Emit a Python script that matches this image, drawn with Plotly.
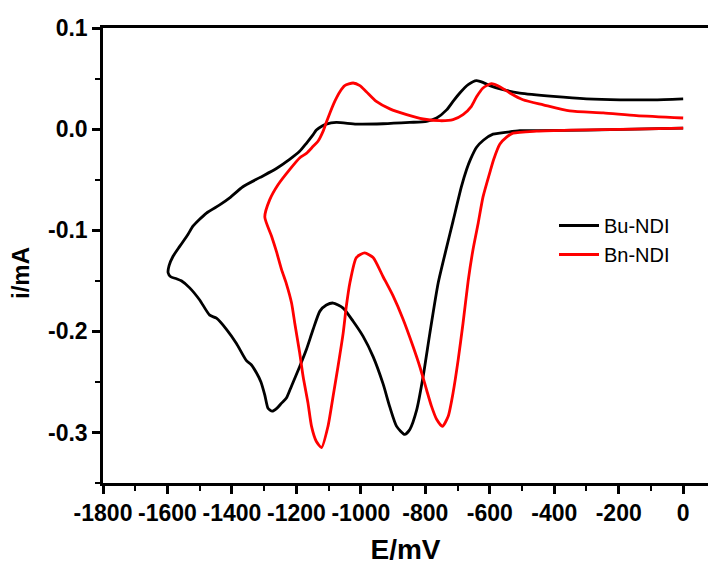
import plotly.graph_objects as go

# ---- data (E in mV, i in mA) ----
bu_E = [0, -150, -300, -450, -507, -569, -590, -620, -641, -660, -672, -688, -714, -734, -760,
        -786, -807, -827, -848, -864, -889, -910, -931, -962, -993, -1024, -1055, -1086, -1107,
        -1127, -1148, -1169, -1190, -1215, -1231, -1246, -1260, -1275, -1288, -1298, -1310, -1324,
        -1340, -1355, -1386, -1417, -1448, -1469, -1500, -1531, -1557, -1572, -1590, -1598,
        -1595, -1583, -1562, -1536, -1521, -1479, -1438, -1407, -1366, -1314, -1262, -1221, -1190,
        -1169, -1148, -1138, -1120, -1107, -1076, -1014, -931, -848, -796, -765, -734, -714, -693,
        -667, -641, -620, -600, -559, -507, -403, -300, -196, -93, 0]
bu_i = [0.001, 0.0, -0.001, -0.0015, -0.0016, -0.004, -0.005, -0.011, -0.018, -0.030, -0.040,
        -0.057, -0.091, -0.117, -0.152, -0.202, -0.245, -0.278, -0.297, -0.302, -0.294, -0.275,
        -0.252, -0.225, -0.205, -0.190, -0.177, -0.172, -0.174, -0.180, -0.198, -0.218, -0.235,
        -0.254, -0.266, -0.271, -0.276, -0.279, -0.276, -0.263, -0.250, -0.241, -0.233, -0.229,
        -0.212, -0.198, -0.187, -0.184, -0.169, -0.157, -0.150, -0.148, -0.146, -0.142,
        -0.135, -0.126, -0.116, -0.104, -0.096, -0.083, -0.075, -0.068, -0.057, -0.048, -0.039,
        -0.030, -0.022, -0.014, -0.0055, -0.001, 0.003, 0.005, 0.0066, 0.005, 0.0053, 0.0066,
        0.0077, 0.011, 0.019, 0.0274, 0.0357, 0.044, 0.048, 0.046, 0.043, 0.039, 0.0357, 0.0324,
        0.030, 0.029, 0.029, 0.030]

bn_E = [0, -150, -248, -350, -455, -528, -548, -569, -588, -600, -621, -636, -652, -667, -683,
        -698, -714, -729, -747, -765, -781, -796, -817, -838, -869, -900, -931, -962, -988, -1014,
        -1034, -1045, -1055, -1071, -1086, -1102, -1122, -1138, -1153, -1164, -1179, -1190, -1205,
        -1215, -1231, -1246, -1262, -1277, -1298,
        -1283, -1257, -1221, -1190, -1169, -1148, -1133, -1117, -1108, -1096, -1081, -1065, -1050,
        -1024, -1003, -983, -952, -910, -858, -807, -755, -714, -683, -657, -641, -621, -595, -569,
        -538, -497, -434, -352, -248, -145, 0]
bn_i = [0.001, 0.0, -0.0006, -0.001, -0.002, -0.004, -0.008, -0.015, -0.030, -0.043, -0.067,
        -0.093, -0.119, -0.150, -0.192, -0.228, -0.261, -0.284, -0.294, -0.287, -0.274, -0.258,
        -0.235, -0.215, -0.188, -0.165, -0.146, -0.127, -0.1225, -0.127, -0.152, -0.175, -0.202,
        -0.235, -0.264, -0.294, -0.315, -0.309, -0.294, -0.271, -0.245, -0.221, -0.192, -0.172,
        -0.153, -0.139, -0.121, -0.106, -0.087,
        -0.070, -0.055, -0.040, -0.0285, -0.024, -0.017, -0.012, -0.002, 0.006, 0.016, 0.0274,
        0.037, 0.043, 0.0456, 0.043, 0.037, 0.0274, 0.020, 0.0143, 0.010, 0.0083, 0.0093, 0.0143,
        0.0225, 0.032, 0.0407, 0.045, 0.042, 0.0357, 0.029, 0.024, 0.018, 0.016, 0.0133, 0.011]

x_ticks = [-1800, -1600, -1400, -1200, -1000, -800, -600, -400, -200, 0]
x_labels = ["-1800", "-1600", "-1400", "-1200", "-1000", "-800", "-600", "-400", "-200", "0"]
y_ticks = [-0.3, -0.2, -0.1, 0.0, 0.1]
y_labels = ["-0.3", "-0.2", "-0.1", "0.0", "0.1"]

FONT = "Liberation Sans, Arial, sans-serif"

fig = go.Figure()
fig.add_trace(go.Scatter(x=bu_E, y=bu_i, mode="lines", name="Bu-NDI",
                         line=dict(color="#000000", width=2.8, shape="spline", smoothing=0.6)))
fig.add_trace(go.Scatter(x=bn_E, y=bn_i, mode="lines", name="Bn-NDI",
                         line=dict(color="#ff0000", width=2.8, shape="spline", smoothing=0.6)))

axis_common = dict(showgrid=False, zeroline=False, showline=True, linecolor="black", linewidth=2.5,
                   ticks="outside", ticklen=8, tickwidth=2.5, tickcolor="black",
                   tickfont=dict(family=FONT, size=23, color="black", weight="bold"))

fig.update_xaxes(range=[-1800, 77], tickvals=x_ticks, ticktext=x_labels, mirror=True,
                 minor=dict(ticks="outside", ticklen=5, tickwidth=2, tickcolor="black", dtick=100, tick0=0),
                 title=dict(text="E/mV", font=dict(family=FONT, size=28, color="black", weight="bold"), standoff=24),
                 **axis_common)
fig.update_yaxes(range=[-0.35, 0.1], tickvals=y_ticks, ticktext=y_labels,
                 minor=dict(ticks="outside", ticklen=5, tickwidth=2, tickcolor="black", dtick=0.05, tick0=0),
                 **axis_common)

fig.add_annotation(text="i/mA", textangle=-90, xref="paper", yref="paper",
                   x=(20 - 103) / 605, y=(483 - 273) / 455, xanchor="center", yanchor="middle",
                   showarrow=False, font=dict(family=FONT, size=24, color="black", weight="bold"))

fig.update_layout(width=708, height=565, margin=dict(l=103, r=0, t=28, b=82, autoexpand=False),
                  plot_bgcolor="white", paper_bgcolor="white",
                  showlegend=True,
                  legend=dict(x=(554 - 103) / 605, y=(483 - 206) / 455, xanchor="left", yanchor="top",
                              bgcolor="rgba(0,0,0,0)", borderwidth=0, itemwidth=40,
                              tracegroupgap=0,
                              font=dict(family=FONT, size=20, color="black")))

fig.write_html("out.html", config={"displayModeBar": False},
               post_script="document.body.style.margin='0';")
